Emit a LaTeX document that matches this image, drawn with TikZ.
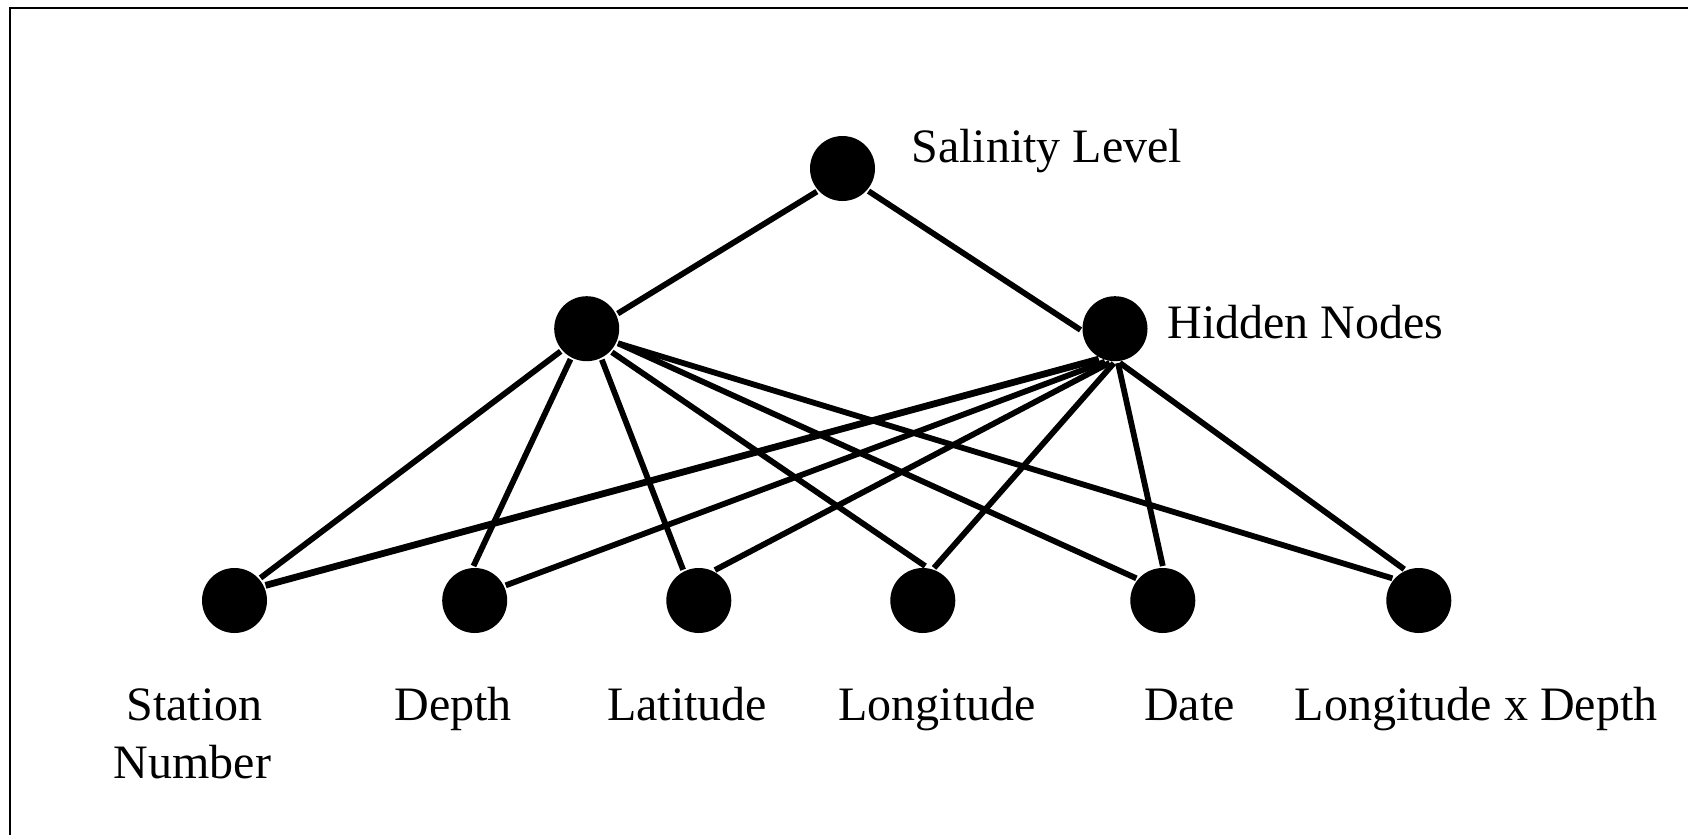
\documentclass[tikz,border=0pt]{standalone}
\usepackage{fontspec}
\setmainfont{Liberation Serif}
\begin{document}
\begin{tikzpicture}[x=0.5pt,y=-0.5pt,
  unit/.style={circle,fill=black,inner sep=0pt,minimum size=32.5pt,outer sep=1pt},
  link/.style={line width=2.9pt},
  lbl/.style={font=\fontsize{24}{29}\selectfont,inner sep=0pt}]
\useasboundingbox (0,0) rectangle (1688,835);
% frame (left and top edges)
\draw[line width=1pt] (10,835) -- (10,8) -- (1688,8);

% units
\node[unit] (out) at (842.5,168.5) {};
\node[unit] (h1)  at (586.7,328.7) {};
\node[unit] (h2)  at (1115,328.7) {};
\node[unit] (st)  at (234.5,600.5) {};
\node[unit] (de)  at (474.7,600.5) {};
\node[unit] (la)  at (698.8,600.5) {};
\node[unit] (lo)  at (922.8,600.5) {};
\node[unit] (da)  at (1162.8,600.5) {};
\node[unit] (lxd) at (1418.8,600.5) {};

% labels
\node[lbl,anchor=base west] (outlbl) at (911,162) {Salinity Level};
\node[lbl,anchor=base west] (hidlbl) at (1167,338) {Hidden Nodes};
\node[lbl,anchor=base] (stlbl)  at (194.5,720) {Station};
\node[lbl,anchor=base] (stlbl2) at (192.6,778) {Number};
\node[lbl,anchor=base] (delbl)  at (453,720) {Depth};
\node[lbl,anchor=base] (lalbl)  at (687,720) {Latitude};
\node[lbl,anchor=base] (lolbl)  at (937,720) {Longitude};
\node[lbl,anchor=base] (dalbl)  at (1189.5,720) {Date};
\node[lbl,anchor=base] (lxdlbl) at (1476,720) {Longitude x Depth};

% output layer
\draw[link] (out.222.5) -- (h1.26.9);
\draw[link] (out.319.5) -- (h2.182.3);

% first hidden unit
\draw[link] (h1.221.3) -- (st.41.8);
\draw[link] (h1.242.2) -- (de.92.4);
\draw[link] (h1.296.7) -- (la.117.9);
\draw[link] (h1.317.4) -- (lo.86);
\draw[link] (h1.335.2) -- (da.140);
\draw[link] (h1.335.2) -- (lxd.140.2);

% second hidden unit
\draw[link,line width=3.4pt] (h2.242.6) -- (st.26);
\draw[link] (h2.253.6) -- (de.26.1);
\draw[link] (h2.261.9) -- (la.62);
\draw[link] (h2.268.4) -- (lo.71);
\draw[link] (h2.275.2) -- (da.90.3);
\draw[link] (h2.278.4) -- (lxd.115.7);
\end{tikzpicture}
\end{document}
